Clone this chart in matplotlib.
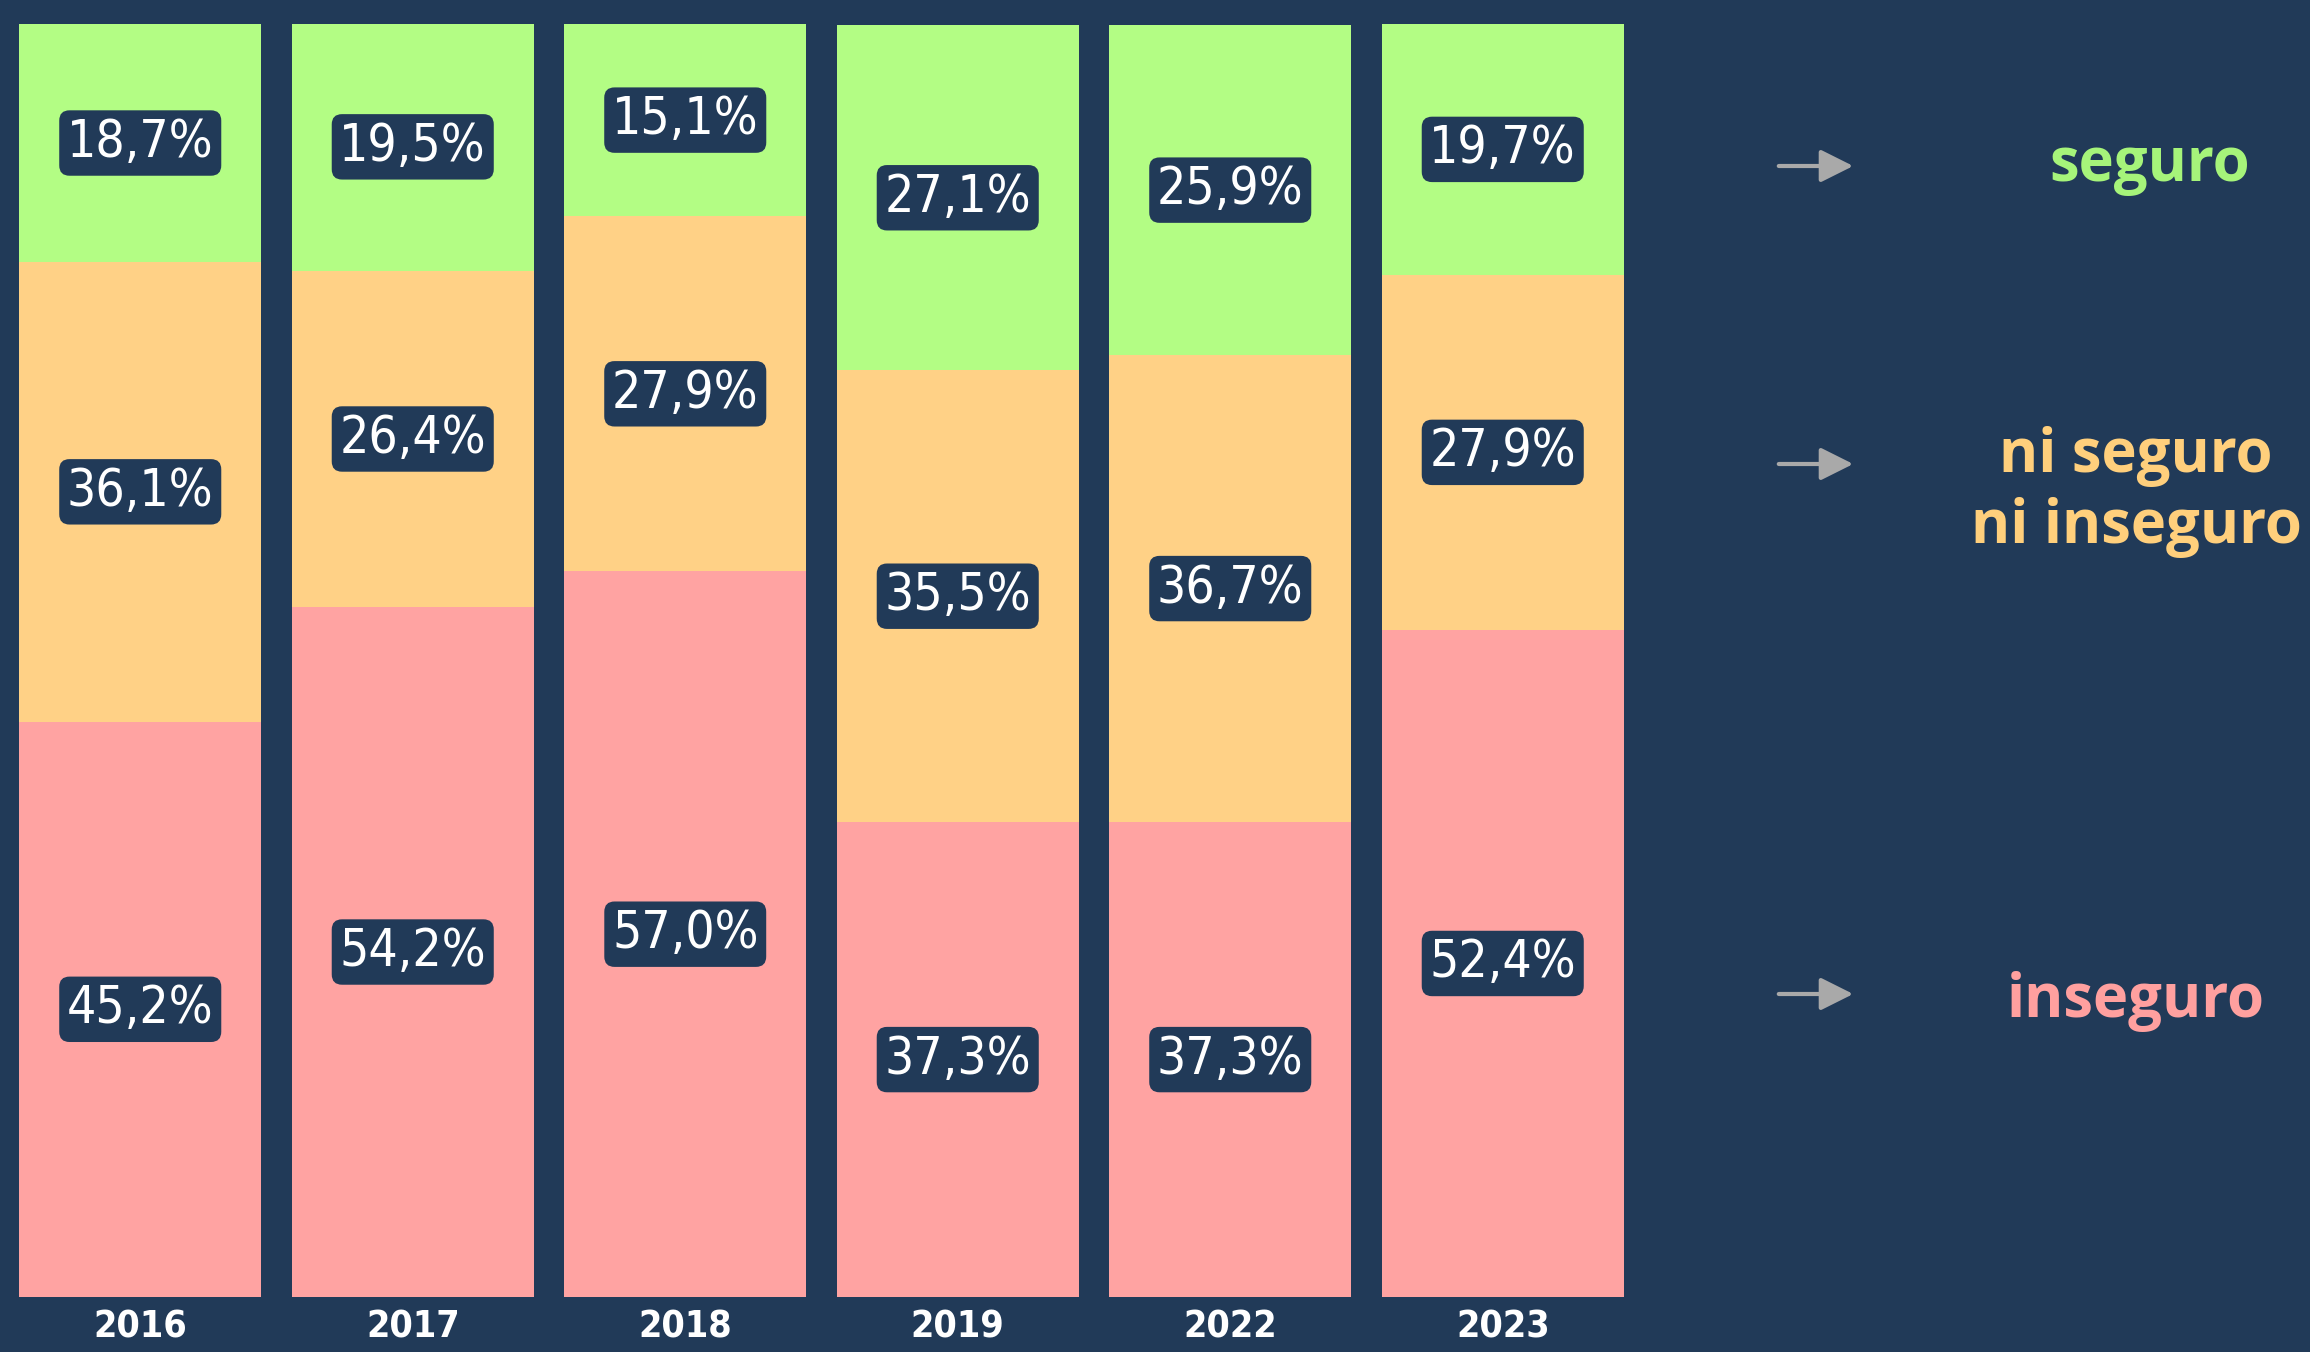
import matplotlib.pyplot as plt
import numpy as np

# datos (porcentaje de personas según percepción de seguridad)
years = ['2016', '2017', '2018', '2019', '2022', '2023']
inseguro = [45.2, 54.2, 57.0, 37.3, 37.3, 52.4]
ni_seguro = [36.1, 26.4, 27.9, 35.5, 36.7, 27.9]
seguro = [18.7, 19.5, 15.1, 27.1, 25.9, 19.7]

BG = '#213a58'
C_PINK = '#ffa3a2'
C_ORANGE = '#ffd186'
C_GREEN = '#b3fd84'

fig = plt.figure(figsize=(23.1, 13.52), dpi=100, facecolor=BG)
W, H = 2310, 1352
# ejes en píxeles: barras de x=4 a x=1639, y=24 a y=1297 (desde arriba)
ax = fig.add_axes([4 / W, (H - 1297) / H, 1635 / W, (1297 - 24) / H])
ax.set_facecolor(BG)

x = np.arange(len(years))
bw = 0.888
series = [(inseguro, C_PINK), (ni_seguro, C_ORANGE), (seguro, C_GREEN)]
bottom = np.zeros(len(years))
for vals, col in series:
    vals = np.array(vals)
    ax.bar(x, vals, width=bw, bottom=bottom, color=col, edgecolor='none')
    for xi, b, v in zip(x, bottom, vals):
        ax.text(xi, b + v / 2, f'{v:.1f}%'.replace('.', ','),
                ha='center', va='center', color='white', fontsize=37,
                family='DejaVu Sans', fontstretch='condensed',
                bbox=dict(boxstyle='round,pad=0.15,rounding_size=0.2',
                          facecolor=BG, edgecolor='none'))
    bottom = bottom + vals

ax.set_xlim(-0.5, len(years) - 0.5)
ax.set_ylim(0, 100)
ax.set_yticks([])
ax.set_xticks(x)
ax.set_xticklabels(years, color='white', fontsize=27, fontweight='bold',
                   family='DejaVu Sans', fontstretch='condensed')
ax.tick_params(axis='x', length=0, pad=9)
for s in ax.spines.values():
    s.set_visible(False)

# leyenda a la derecha con flechas
legend_items = [
    ('seguro', '#a6f47a', 166, 166, 2150),
    ('ni seguro\nni inseguro', '#ffcf7c', 464, 492, 2136),
    ('inseguro', '#ffa09f', 994, 1002, 2136),
]
for label, col, ya, yt, xt in legend_items:
    fig.patches.append(plt.matplotlib.patches.FancyArrowPatch(
        (1776 / W, 1 - ya / H), (1856 / W, 1 - ya / H),
        transform=fig.transFigure, arrowstyle='-|>', mutation_scale=50,
        color='#a9a9a9', lw=3))
    fig.text(xt / W, 1 - yt / H, label, ha='center', va='center',
             color=col, fontsize=43, fontweight='bold', family='Open Sans',
             linespacing=1.2)

plt.savefig('out.png', dpi=100, facecolor=BG)
